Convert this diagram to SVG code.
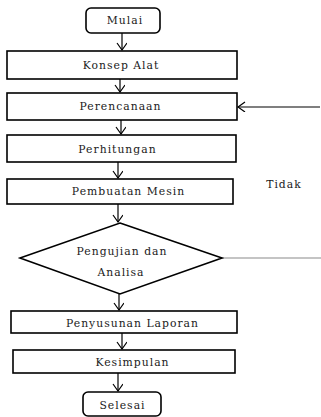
<svg xmlns="http://www.w3.org/2000/svg" width="321" height="417" viewBox="0 0 321 417">
<defs>
<marker id="arr" markerWidth="12" markerHeight="12" refX="8" refY="5" orient="auto" markerUnits="userSpaceOnUse">
<path d="M1,0 L8,5 L1,10" fill="none" stroke="#000" stroke-width="1.2"/>
</marker>
</defs>
<style>
.b{fill:#fff;stroke:#000;stroke-width:1.6}
.t{font-family:"DejaVu Serif","Liberation Serif",serif;font-size:10.8px;letter-spacing:1px;fill:#1a1a1a;text-anchor:middle}
.c{stroke:#000;stroke-width:1.2;fill:none}
</style>
<rect width="321" height="417" fill="#fff"/>
<g id="connectors">
<line class="c" x1="122" y1="33" x2="122" y2="50" marker-end="url(#arr)"/>
<line class="c" x1="120" y1="79" x2="120" y2="92" marker-end="url(#arr)"/>
<line class="c" x1="320" y1="107" x2="238" y2="107" marker-end="url(#arr)"/>
<line class="c" x1="121" y1="120" x2="121" y2="134" marker-end="url(#arr)"/>
<line class="c" x1="118" y1="162" x2="118" y2="178" marker-end="url(#arr)"/>
<line class="c" x1="118" y1="204" x2="118" y2="222" marker-end="url(#arr)"/>
<line x1="222" y1="258" x2="321" y2="258" stroke="#8a8a8a" stroke-width="1.2"/>
<line class="c" x1="119" y1="294" x2="119" y2="310" marker-end="url(#arr)"/>
<line class="c" x1="122" y1="333" x2="122" y2="349" marker-end="url(#arr)"/>
<line class="c" x1="118" y1="373" x2="118" y2="391" marker-end="url(#arr)"/>
</g>
<g id="mulai"><rect class="b" x="86" y="8" width="74" height="25" rx="5"/><text class="t" x="125" y="24">Mulai</text></g>
<g id="konsep"><rect class="b" x="7" y="51" width="230" height="28"/><text class="t" x="121" y="69">Konsep Alat</text></g>
<g id="perencanaan"><rect class="b" x="7" y="93" width="230" height="27"/><text class="t" x="120.5" y="110">Perencanaan</text></g>
<g id="perhitungan"><rect class="b" x="7" y="135" width="229" height="27"/><text class="t" x="117.5" y="153">Perhitungan</text></g>
<g id="pembuatan"><rect class="b" x="7" y="179" width="226" height="25"/><text class="t" x="128.5" y="195">Pembuatan Mesin</text></g>
<g id="tidak"><text class="t" x="284" y="188">Tidak</text></g>
<g id="pengujian"><polygon class="b" points="120,223 222,258 120,294 20,258"/><text class="t" x="122" y="255">Pengujian dan</text><text class="t" x="121" y="276">Analisa</text></g>
<g id="penyusunan"><rect class="b" x="11" y="311" width="226" height="22"/><text class="t" x="132.5" y="326.5">Penyusunan Laporan</text></g>
<g id="kesimpulan"><rect class="b" x="13" y="350" width="222" height="23"/><text class="t" x="132.5" y="366">Kesimpulan</text></g>
<g id="selesai"><rect class="b" x="83" y="392" width="78" height="24" rx="5"/><text class="t" x="122.5" y="408.5">Selesai</text></g>
</svg>
